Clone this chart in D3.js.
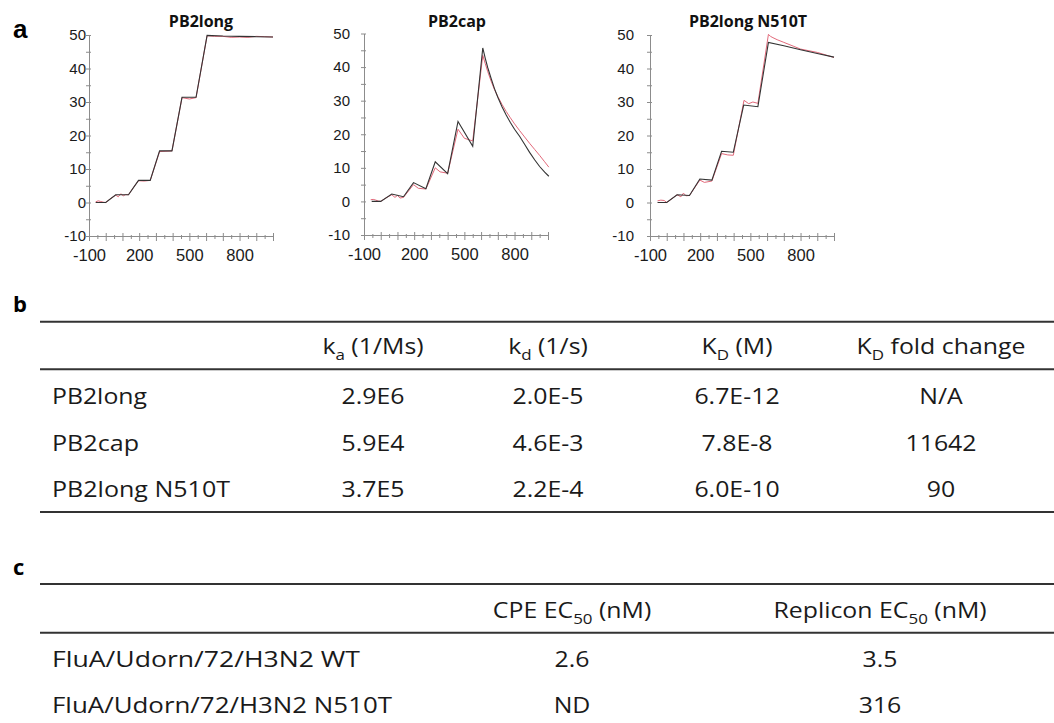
<!DOCTYPE html>
<html>
<head>
<meta charset="utf-8">
<script src="https://cdn.jsdelivr.net/npm/d3@7"></script>
<style>
  body { margin: 0; background: #fff; }
</style>
</head>
<body>
<svg id="fig" width="1054" height="723"></svg>
<script>
// ---- panel a : sensorgrams (response vs time) ----
var panelNames = ["PB2long", "PB2cap", "PB2long N510T"];
var xTicks = [-100, 200, 500, 800];
var yTicks = [-10, 0, 10, 20, 30, 40, 50];

// PB2long : measured (red) and fitted (black)
var longRespTime = [-60, -45, -30, -15, 0, 30, 60, 75, 90, 105, 120, 136, 166, 196, 230, 266, 322, 360, 396, 456, 500, 540, 606, 650, 700, 750, 800, 850, 900, 950, 1000];
var longResp = [0.2, 0.5, 0.3, 0.1, 0, 1.2, 2.2, 1.7, 2.6, 2.0, 2.4, 2.3, 4.5, 6.5, 6.4, 6.6, 15.2, 15.3, 15.4, 31.3, 30.9, 31.3, 49.8, 49.6, 49.6, 49.3, 49.4, 49.3, 49.6, 49.5, 49.4];
var longFitTime = [-60, 0, 60, 136, 196, 266, 322, 396, 456, 540, 606, 700, 800, 900, 1000];
var longFit = [0, 0, 2.3, 2.3, 6.6, 6.6, 15.4, 15.4, 31.4, 31.4, 49.9, 49.7, 49.6, 49.5, 49.4];

// PB2cap
var capRespTime = [-60, -45, -30, -15, 0, 30, 66, 85, 100, 115, 136, 196, 225, 270, 326, 355, 400, 462, 500, 550, 610, 625, 640, 660, 680, 700, 725, 750, 775, 800, 830, 860, 890, 920, 950, 980, 1005];
var capResp = [0.5, 0.6, 0.4, 0.1, 0, 1.0, 2.0, 1.2, 1.8, 1.0, 1.2, 5.0, 3.9, 3.7, 10.0, 8.8, 8.4, 21.5, 18.8, 18.0, 43.5, 41.0, 38.6, 35.8, 33.3, 31.2, 28.9, 26.8, 24.9, 23.1, 21.1, 19.2, 17.3, 15.5, 13.7, 11.8, 10.2];
var capFitTime = [-54, 0, 66, 136, 196, 270, 326, 400, 462, 550, 610, 625, 640, 660, 680, 700, 725, 750, 775, 800, 830, 860, 890, 920, 950, 980, 1005];
var capFit = [0, 0, 2.2, 1.4, 5.6, 3.8, 11.8, 8.3, 23.8, 16.4, 45.7, 42.6, 39.8, 36.6, 33.6, 31.0, 28.2, 25.7, 23.5, 21.5, 19.4, 17.0, 14.6, 12.4, 10.4, 8.7, 7.5];

// PB2long N510T
var mutRespTime = [-55, -35, -15, 0, 62, 85, 100, 115, 136, 198, 225, 270, 328, 365, 398, 462, 490, 515, 545, 608, 620, 635, 660, 700, 760, 800, 900, 1000];
var mutResp = [0.5, 0.7, 0.6, 0, 2.3, 1.7, 2.8, 2.0, 2.1, 6.7, 6.0, 6.4, 14.6, 14.2, 14.1, 30.5, 29.5, 30.0, 29.6, 50.2, 49.6, 49.2, 48.6, 47.8, 46.6, 45.8, 44.8, 43.3];
var mutFitTime = [-55, 0, 62, 136, 198, 270, 328, 398, 460, 545, 608, 700, 800, 900, 1000];
var mutFit = [0, 0, 2.3, 2.1, 7.0, 6.7, 15.3, 15.0, 29.1, 28.6, 47.8, 46.8, 45.6, 44.5, 43.4];

// ---- panel b : kinetics table ----
var kinRows = ["PB2long", "PB2cap", "PB2long N510T"];
var kaVals = ["2.9E6", "5.9E4", "3.7E5"];
var kdVals = ["2.0E-5", "4.6E-3", "2.2E-4"];
var KDVals = ["6.7E-12", "7.8E-8", "6.0E-10"];
var foldVals = ["N/A", "11642", "90"];
var kinHeaders = [["k", "a", " (1/Ms)"], ["k", "d", " (1/s)"], ["K", "D", " (M)"], ["K", "D", " fold change"]];

// ---- panel c : antiviral table ----
var virusRows = ["FluA/Udorn/72/H3N2 WT", "FluA/Udorn/72/H3N2 N510T"];
var cpeVals = ["2.6", "ND"];
var repliconVals = ["3.5", "316"];
var virusHeaders = [["CPE EC", "50", " (nM)"], ["Replicon EC", "50", " (nM)"]];

var svg = d3.select("#fig");

var panels = [
  { left: 89, top: 35, bottom: 236, titleX: 201, gap: 3,
    respT: longRespTime, resp: longResp, fitT: longFitTime, fit: longFit },
  { left: 364, top: 33.5, bottom: 235, titleX: 457, gap: 14,
    respT: capRespTime, resp: capResp, fitT: capFitTime, fit: capFit },
  { left: 650, top: 35, bottom: 236, titleX: 748, gap: 16,
    respT: mutRespTime, resp: mutResp, fitT: mutFitTime, fit: mutFit }
];

panels.forEach(function (p, i) {
  var g = svg.append("g");
  var x = d3.scaleLinear().domain([-100, 1000]).range([p.left, p.left + 184]);
  var y = d3.scaleLinear().domain([-10, 50]).range([p.bottom, p.top]);

  g.append("text")
    .attr("x", p.titleX)
    .attr("y", 27)
    .attr("text-anchor", "middle")
    .attr("font-family", "'Open Sans', sans-serif")
    .attr("font-weight", "bold")
    .attr("font-size", "16px")
    .attr("fill", "#111")
    .text(panelNames[i]);

  // y axis: ticks crossing the axis every 5, labels every 10
  var gy = g.append("g").attr("transform", "translate(" + p.left + ",0)");
  gy.append("g")
    .call(d3.axisLeft(y).tickValues(d3.range(-10, 51, 5)).tickSizeInner(3).tickSizeOuter(0).tickFormat(""));
  gy.append("g")
    .call(d3.axisRight(y).tickValues(d3.range(-10, 51, 5)).tickSize(2).tickFormat(""))
    .select(".domain").remove();
  gy.append("g")
    .call(d3.axisLeft(y).tickValues(yTicks).tickSize(0).tickPadding(p.gap).tickFormat(String))
    .call(function (s) { s.select(".domain").remove(); })
    .selectAll("text")
    .attr("font-family", "'Liberation Sans', Arial, sans-serif")
    .attr("font-size", "15px")
    .attr("fill", "#1a1a1a");

  // x axis: long ticks every 100, short every 50
  var gx = g.append("g").attr("transform", "translate(0," + p.bottom + ")");
  gx.append("g")
    .call(d3.axisBottom(x).tickValues(d3.range(-100, 1001, 100)).tickSizeInner(5).tickSizeOuter(0).tickFormat(""));
  gx.append("g")
    .call(d3.axisTop(x).tickValues(d3.range(-100, 1001, 100)).tickSize(3).tickFormat(""))
    .select(".domain").remove();
  gx.append("g")
    .call(d3.axisBottom(x).tickValues(d3.range(-50, 1000, 100)).tickSize(3).tickFormat(""))
    .select(".domain").remove();
  gx.append("g")
    .call(d3.axisTop(x).tickValues(d3.range(-50, 1000, 100)).tickSize(1).tickFormat(""))
    .select(".domain").remove();
  gx.append("g")
    .call(d3.axisBottom(x).tickValues(xTicks).tickSize(0).tickPadding(12.8).tickFormat(String))
    .call(function (s) { s.select(".domain").remove(); })
    .selectAll("text")
    .attr("font-family", "'Liberation Sans', Arial, sans-serif")
    .attr("font-size", "16.5px")
    .attr("fill", "#1a1a1a");

  g.selectAll(".domain, .tick line").attr("stroke", "#8c8c8c").attr("stroke-width", 1);

  var line = d3.line()
    .x(function (d) { return x(d[0]); })
    .y(function (d) { return y(d[1]); });

  g.append("path")
    .datum(d3.zip(p.respT, p.resp))
    .attr("fill", "none")
    .attr("stroke", "#e2697a")
    .attr("stroke-width", 1)
    .attr("d", line);

  g.append("path")
    .datum(d3.zip(p.fitT, p.fit))
    .attr("fill", "none")
    .attr("stroke", "#333")
    .attr("stroke-width", 1.1)
    .attr("d", line);
});

// panel letters
svg.append("text").attr("x", 13).attr("y", 38)
  .attr("font-family", "'Liberation Sans', Arial, sans-serif")
  .attr("font-weight", "bold").attr("font-size", "26px").text("a");
svg.selectAll(".letter")
  .data([["b", 312], ["c", 575]])
  .enter().append("text")
  .attr("class", "letter")
  .attr("x", 13).attr("y", function (d) { return d[1]; })
  .attr("font-family", "'Open Sans', sans-serif")
  .attr("font-weight", "bold").attr("font-size", "22px")
  .text(function (d) { return d[0]; });

// ---- tables ----
var SX = 1.13; // table type is set wider than Open Sans
function cell(g, x, y, anchor) {
  return g.append("text")
    .attr("transform", "translate(" + x + "," + y + ") scale(" + SX + ",1)")
    .attr("text-anchor", anchor)
    .attr("font-family", "'Open Sans', sans-serif")
    .attr("font-size", "22px")
    .attr("fill", "#1a1a1a");
}
function subText(t, parts) {
  t.append("tspan").text(parts[0]);
  t.append("tspan").attr("font-size", "15px").attr("dy", 6).text(parts[1]);
  t.append("tspan").attr("dy", -6).text(parts[2]);
}

function drawTable(opt) {
  var g = svg.append("g");
  var col = d3.scaleOrdinal().domain(d3.range(opt.headers.length)).range(opt.colX);
  var row = d3.scaleLinear().domain([0, 1]).range([opt.row0, opt.row0 + opt.rowStep]);

  opt.lines.forEach(function (ly) {
    g.append("line")
      .attr("x1", 40).attr("x2", 1054)
      .attr("y1", ly).attr("y2", ly)
      .attr("stroke", "#333").attr("stroke-width", 2);
  });

  opt.headers.forEach(function (h, j) {
    subText(cell(g, col(j), opt.headY, "middle"), h);
  });

  opt.rows.forEach(function (r, i) {
    g.append("text")
      .attr("x", 52).attr("y", row(i))
      .attr("font-family", "'Open Sans', sans-serif")
      .attr("font-size", "22px")
      .attr("fill", "#1a1a1a")
      .attr("textLength", opt.rowWidths[i])
      .attr("lengthAdjust", "spacingAndGlyphs")
      .text(r);
    opt.cols.forEach(function (vals, j) {
      cell(g, col(j), row(i), "middle").text(vals[i]);
    });
  });
}

drawTable({
  headers: kinHeaders,
  colX: [373, 548, 737, 941],
  rows: kinRows,
  rowWidths: [95, 87, 178],
  cols: [kaVals, kdVals, KDVals, foldVals],
  headY: 354,
  row0: 404,
  rowStep: 46.6,
  lines: [321.7, 369.3, 512]
});

drawTable({
  headers: virusHeaders,
  colX: [572, 880],
  rows: virusRows,
  rowWidths: [308, 340],
  cols: [cpeVals, repliconVals],
  headY: 618.3,
  row0: 666.7,
  rowStep: 46.6,
  lines: [584, 632.7]
});
</script>
</body>
</html>
